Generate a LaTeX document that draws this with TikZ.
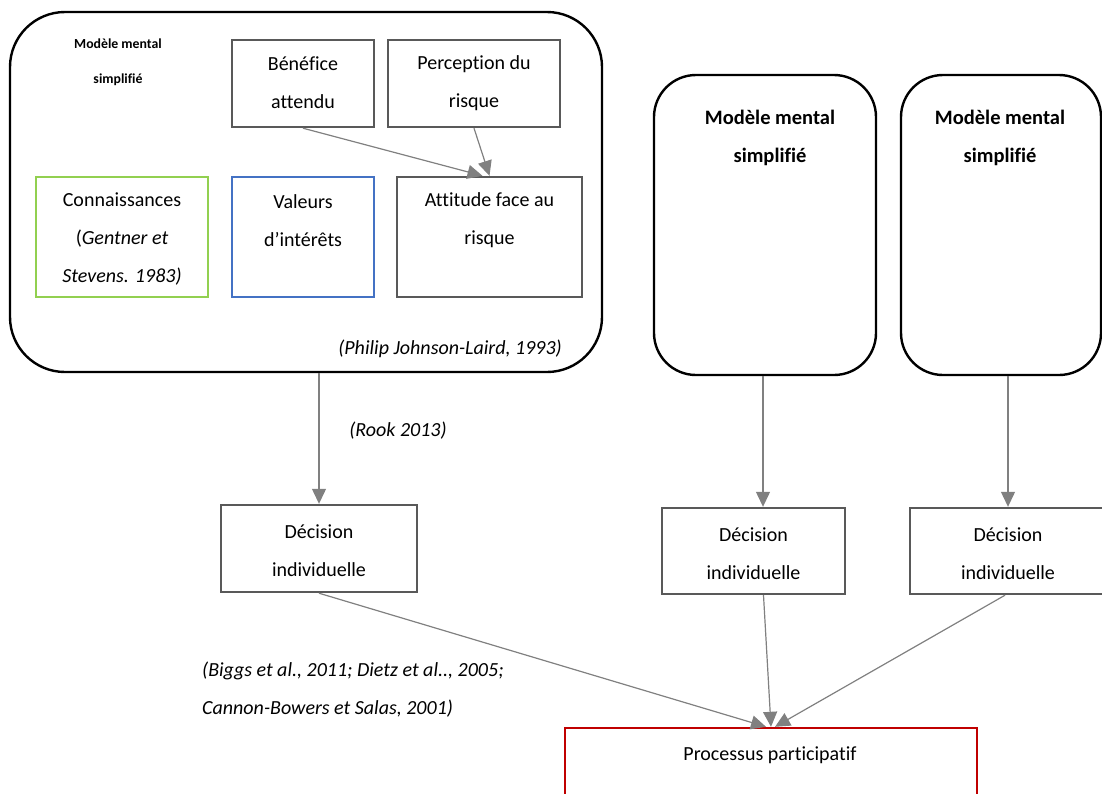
\documentclass[tikz,border=0pt]{standalone}
\usepackage{fontspec}
\setmainfont{Carlito}[Ligatures=NoCommon]
\usetikzlibrary{arrows.meta}
\definecolor{boxgray}{HTML}{595959}
\definecolor{arrowgray}{HTML}{808080}
\definecolor{kgreen}{HTML}{92D050}
\definecolor{vblue}{HTML}{4472C4}
\definecolor{pred}{HTML}{C00000}
\tikzset{
  model/.style={draw=black, line width=2.4pt, rounded corners=#1, inner sep=0pt},
  model/.default=42pt,
  item/.style={draw=boxgray, line width=2.4pt, inner sep=0pt},
  txt/.style={inner sep=0pt, align=center, font=\fontsize{20}{38}\selectfont},
  ref/.style={inner sep=0pt, align=left, font=\fontsize{20}{38}\selectfont\itshape},
  link/.style={draw=arrowgray, line width=1.2pt, -{Triangle[length=15pt,width=14pt]}}
}
\begin{document}
\begin{tikzpicture}[x=1pt,y=-1pt]
\useasboundingbox (0,0) rectangle (1102,793);
\clip (0,0) rectangle (1102,793);

% first mental model with its components
\node[model=55pt, minimum width=592pt, minimum height=360pt] (big) at (306,192) {};
\node[inner sep=0pt, align=center, font=\fontsize{13.8}{35}\selectfont\bfseries] (bigtitle) at (118,62) {Modèle mental\\simplifié};

\node[item, minimum width=142pt, minimum height=87pt] (ben) at (303,83.5) {};
\node[txt] (bentxt) at (303,83) {Bénéfice\\attendu};
\node[item, minimum width=172pt, minimum height=87pt] (per) at (474,83.5) {};
\node[txt] (pertxt) at (474,83) {Perception du\\risque};

\node[item, draw=kgreen, minimum width=172pt, minimum height=120pt] (con) at (122,237) {};
\node[txt] (contxt) at (122,239) {Connaissances\\(\textit{Gentner et}\\\textit{Stevens. 1983)}};
\node[item, draw=vblue, minimum width=142pt, minimum height=120pt] (val) at (303,237) {};
\node[txt] (valtxt) at (303,220.5) {Valeurs\\d’intérêts};
\node[item, minimum width=185pt, minimum height=120pt] (att) at (489.5,237) {};
\node[txt] (atttxt) at (489.5,220.5) {Attitude face au\\risque};

\node[ref, anchor=east] (jl) at (562,349) {(Philip Johnson-Laird, 1993)};

% two further mental models
\node[model, minimum width=222pt, minimum height=300pt] (mm2) at (765,225) {};
\node[txt, font=\fontsize{20.5}{38}\selectfont\bfseries] (mm2txt) at (770,138) {Modèle mental\\simplifié};
\node[model, minimum width=200pt, minimum height=300pt] (mm3) at (1001,225) {};
\node[txt, font=\fontsize{20.5}{38}\selectfont\bfseries] (mm3txt) at (1000,138) {Modèle mental\\simplifié};

% individual decisions
\node[item, minimum width=196pt, minimum height=87pt] (d1) at (319,548.5) {};
\node[txt] (d1txt) at (319,551) {Décision\\individuelle};
\node[item, minimum width=183pt, minimum height=86pt] (d2) at (753.5,551) {};
\node[txt] (d2txt) at (753.5,554) {Décision\\individuelle};
\node[item, minimum width=196pt, minimum height=86pt] (d3) at (1008,551) {};
\node[txt] (d3txt) at (1008,554) {Décision\\individuelle};

% participatory process
\node[draw=pred, line width=2.4pt, inner sep=0pt, minimum width=412pt, minimum height=120pt] (proc) at (771,788) {};
\node[txt] (proctxt) at (770,755) {Processus participatif};

% references along the connectors
\node[ref, anchor=center] (rook) at (398,431) {(Rook 2013)};
\node[ref, anchor=west] (biggs) at (202,690) {(Biggs et al., 2011; Dietz et al.., 2005;\\Cannon-Bowers et Salas, 2001)};

% connectors
\draw[link] (ben.south) -- ([xshift=-7pt]att.north);
\draw[link] (per.south) -- (att.north);
\draw[link] (d1.north |- big.south) -- (d1.north);
\draw[link] ([xshift=-2pt]mm2.south) -- ([xshift=-2pt]mm2.south |- d2.north);
\draw[link] (d3.north |- mm3.south) -- (d3.north);
\draw[link] (d1.south) -- ([xshift=-5pt]proc.north);
\draw[link] ([xshift=10pt]d2.south) -- (proc.north);
\draw[link] ([xshift=-3pt]d3.south) -- ([xshift=4pt]proc.north);
\end{tikzpicture}
\end{document}
